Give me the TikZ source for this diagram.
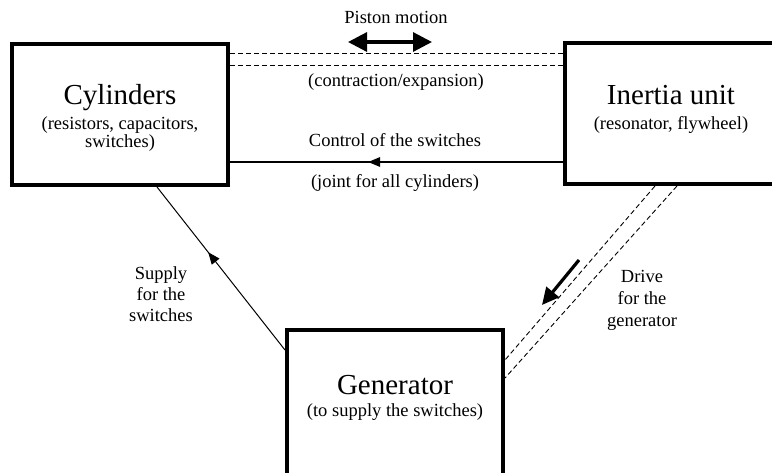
\documentclass[tikz,border=0pt]{standalone}
\usepackage{fontspec}
\setmainfont{Liberation Serif}
\usetikzlibrary{arrows.meta,decorations.markings}
\tikzset{
  box/.style={draw, line width=4pt, rectangle, inner sep=0pt, minimum width=216pt, minimum height=141pt},
  bigtext/.style={anchor=base, inner sep=0pt, font=\fontsize{29}{34}\selectfont},
  smalltext/.style={anchor=base, inner sep=0pt, font=\fontsize{18.5}{22}\selectfont},
  dashline/.style={line width=0.9pt, dash pattern=on 5pt off 3pt},
  heavyarrow/.style={line width=3.2pt},
  midarrow/.style 2 args={postaction={decorate}, decoration={markings, mark=at position #1 with {\arrow{Triangle[length=#2, width=0.8*#2]}}}}
}
\begin{document}
\begin{tikzpicture}[x=1pt, y=-1pt]
\useasboundingbox (0,0) rectangle (772,472);
\clip (0,0) rectangle (772,472);
% boxes
\node[box] (cyl) at (120,114.5) {};
\node[box, minimum width=214pt] (iner) at (672,113.5) {};
\node[box, minimum height=146pt] (gen) at (395,403) {};
% box texts
\node[bigtext] (cylA) at (120,104) {Cylinders};
\node[smalltext] (cylB) at (120,129) {(resistors, capacitors,};
\node[smalltext] (cylC) at (120,147) {switches)};
\node[bigtext] (inerA) at (671,104) {Inertia unit};
\node[smalltext] (inerB) at (671,129) {(resonator, flywheel)};
\node[bigtext] (genA) at (395,394) {Generator};
\node[smalltext] (genB) at (395,416) {(to supply the switches)};
% piston motion
\node[smalltext] (pist) at (396,23) {Piston motion};
\coordinate (pl) at (348,42);
\coordinate (pr) at (432,42);
\draw[heavyarrow, {Triangle[length=19pt,width=19pt]}-{Triangle[length=19pt,width=19pt]}] (pl) -- (pr);
\draw[dashline] (cyl.east |- 0,53) -- (iner.west |- 0,53);
\draw[dashline] (cyl.east |- 0,65) -- (iner.west |- 0,65);
\node[smalltext] (contr) at (396,86) {(contraction/expansion)};
% control
\node[smalltext] (ctlA) at (395,146) {Control of the switches};
\node[smalltext] (ctlB) at (395,187) {(joint for all cylinders)};
\draw[line width=1.6pt, midarrow={0.585}{12pt}] (iner.west |- 0,162) -- (cyl.east |- 0,162);
% supply
\draw[line width=1pt, midarrow={0.6}{12pt}] (gen.west |- 0,350) -- (157,0 |- cyl.south);
\node[smalltext] (supA) at (161,279) {Supply};
\node[smalltext] (supB) at (161,300) {for the};
\node[smalltext] (supC) at (161,321) {switches};
% drive
\draw[dashline] (655,0 |- iner.south) -- (gen.east |- 0,360);
\draw[dashline] (677,0 |- iner.south) -- (gen.east |- 0,378);
\coordinate (da1) at (579,260);
\coordinate (da2) at (542,305);
\draw[heavyarrow, -{Triangle[length=17pt,width=16pt]}] (da1) -- (da2);
\node[smalltext] (drA) at (642,282) {Drive};
\node[smalltext] (drB) at (642,304) {for the};
\node[smalltext] (drC) at (642,326) {generator};
\end{tikzpicture}
\end{document}
